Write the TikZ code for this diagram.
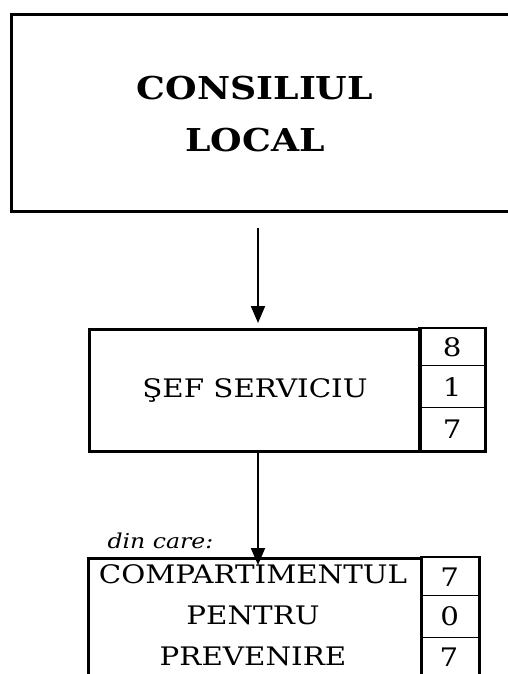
\documentclass[tikz,border=0pt]{standalone}
\usepackage{fontspec}
\setmainfont{DejaVu Serif}[FakeStretch=1.15]
\usetikzlibrary{arrows.meta}
\begin{document}
\begin{tikzpicture}[x=1pt,y=-1pt,
  box/.style={draw, line width=2.8pt, inner sep=0pt},
  cell/.style={draw, line width=1.4pt, inner sep=0pt, anchor=north west, font=\fontsize{25.5}{25.5}\selectfont},
  lbl/.style={font=\fontsize{25.5}{41}\selectfont, align=center},
  conn/.style={line width=2pt, -{Triangle[length=17pt,width=14pt]}}]
\clip (0,0) rectangle (508,674);
% Consiliul local
\node[box, anchor=north west, minimum width=530pt, minimum height=197pt] (clbox) at (10,13) {};
\node[font=\bfseries\fontsize{31.5}{52}\selectfont, align=center] (cl) at (255,114) {CONSILIUL\\LOCAL};
% Sef serviciu
\node[box, anchor=north west, minimum width=331pt, minimum height=122pt, lbl] (sef) at (88,328) {ŞEF SERVICIU};
\node[cell, minimum width=65pt, minimum height=37pt] (s1) at (419,328) {8};
\node[cell, minimum width=65pt, minimum height=42pt] (s2) at (419,365) {1};
\node[cell, minimum width=65pt, minimum height=43pt] (s3) at (419,407) {7};
\draw[line width=2.8pt] (s1.north west) rectangle (s3.south east);
% Compartiment
\node[font=\itshape\fontsize{20.5}{20.5}\selectfont, anchor=base west] (din) at (104,548) {din care:};
\node[box, anchor=north west, minimum width=333pt, minimum height=160pt] (compbox) at (87,557) {};
\node[lbl] (comp) at (253,615) {COMPARTIMENTUL\\PENTRU\\PREVENIRE};
\node[cell, minimum width=58pt, minimum height=38pt] (k1) at (420,557) {7};
\node[cell, minimum width=58pt, minimum height=42pt] (k2) at (420,595) {0};
\node[cell, minimum width=58pt, minimum height=80pt, anchor=north west] (k3) at (420,637) {};
\node[font=\fontsize{25.5}{25.5}\selectfont] (k3t) at (449,657) {7};
\draw[line width=2.8pt] (k1.north west) -- (k1.north east) -- (k3.south east);
% connectors
\coordinate (a1) at (258,228);
\draw[conn, shorten >=5pt] (a1) -- (sef.north -| a1);
\coordinate (a2) at (258,565);
\draw[conn] (sef.south -| a2) -- (a2);
\end{tikzpicture}
\end{document}
